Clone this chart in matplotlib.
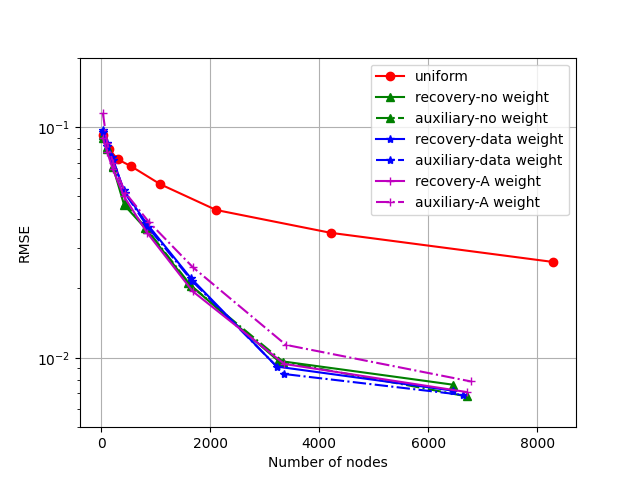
import matplotlib
matplotlib.use("Agg")
import matplotlib.pyplot as plt

uniform_x = [25, 150, 300, 550, 1085, 2110, 4210, 8300]
uniform_y = [0.092, 0.080, 0.0725, 0.0676, 0.0565, 0.0437, 0.0348, 0.026]

rec_no_x = [30, 110, 210, 420, 810, 1600, 3250, 6460]
rec_no_y = [0.092, 0.082, 0.068, 0.046, 0.0364, 0.0210, 0.0097, 0.00764]
aux_no_x = [35, 115, 225, 430, 840, 1650, 3340, 6710]
aux_no_y = [0.090, 0.080, 0.067, 0.047, 0.036, 0.0205, 0.0096, 0.0068]

rec_data_x = [30, 105, 205, 410, 830, 1640, 3220, 6460]
rec_data_y = [0.097, 0.085, 0.074, 0.0533, 0.0383, 0.0222, 0.00916, 0.0072]
aux_data_x = [35, 110, 215, 430, 850, 1670, 3360, 6640]
aux_data_y = [0.095, 0.083, 0.072, 0.052, 0.037, 0.0215, 0.0085, 0.0069]

rec_A_x = [30, 110, 210, 420, 840, 1680, 3360, 6710]
rec_A_y = [0.090, 0.078, 0.066, 0.050, 0.0349, 0.0194, 0.0094, 0.0071]
aux_A_x = [30, 110, 220, 440, 870, 1680, 3390, 6780]
aux_A_y = [0.1153, 0.085, 0.070, 0.052, 0.0389, 0.0247, 0.01137, 0.0079]

fig, ax = plt.subplots(figsize=(6.4, 4.8), dpi=100)
ax.plot(uniform_x, uniform_y, 'ro-', label='uniform')
ax.plot(rec_no_x, rec_no_y, 'g^-', label='recovery-no weight')
ax.plot(aux_no_x, aux_no_y, 'g^-.', label='auxiliary-no weight')
ax.plot(rec_data_x, rec_data_y, 'b*-', label='recovery-data weight')
ax.plot(aux_data_x, aux_data_y, 'b*-.', label='auxiliary-data weight')
ax.plot(rec_A_x, rec_A_y, 'm+-', label='recovery-A weight')
ax.plot(aux_A_x, aux_A_y, 'm+-.', label='auxiliary-A weight')
ax.set_yscale('log')
ax.set_ylim(0.005, 0.2)
ax.set_xlabel('Number of nodes')
ax.set_ylabel('RMSE')
ax.grid(True)
ax.legend(loc='upper right')
fig.savefig('out.png')
